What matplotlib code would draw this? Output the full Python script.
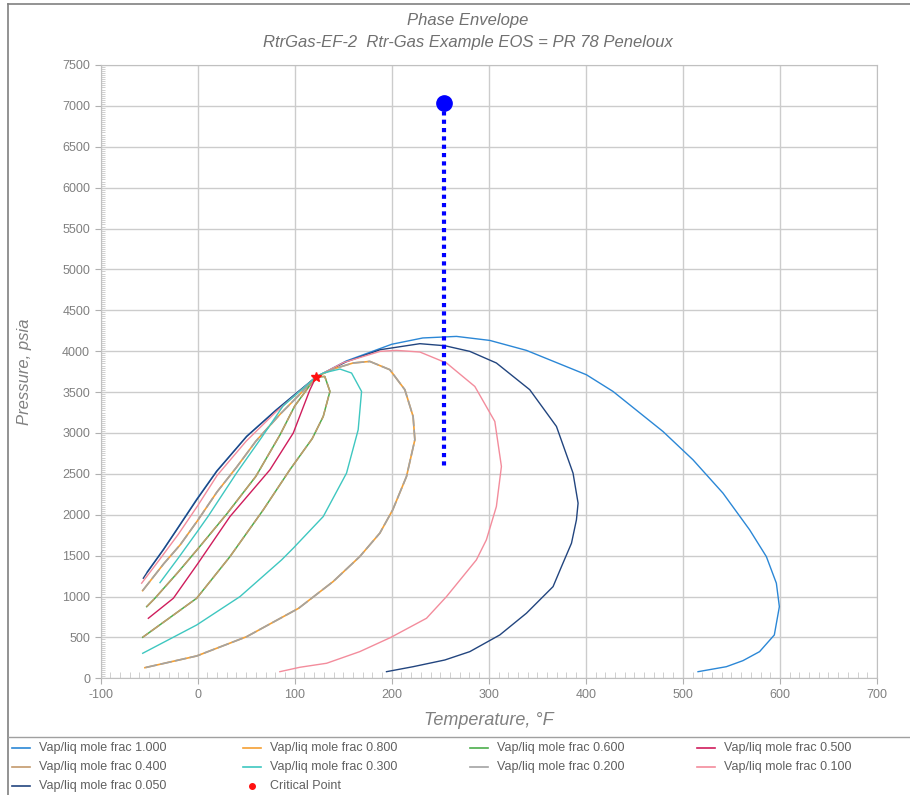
import matplotlib
matplotlib.use("Agg")
import matplotlib.pyplot as plt
from matplotlib.lines import Line2D
from matplotlib.ticker import MultipleLocator

plt.rcParams['font.family'] = ['Liberation Sans', 'DejaVu Sans']
plt.rcParams['axes.unicode_minus'] = False

# ---- data (T in degF, P in psia) ----
# vap/liq mole frac 1.000
t_100 = [-52, -35.4, -21.6, -1, 19.6, 50.5, 81.4, 122, 153, 200, 232, 266.7, 301, 338.8,
         400.6, 428, 479.5, 510.4, 541.3, 568.8, 586, 596.3, 599.4, 594.2, 579, 561.9, 544.8, 515.6]
p_100 = [1300, 1575, 1820, 2190, 2535, 2960, 3288, 3685, 3880, 4085, 4162, 4181, 4132, 4010,
         3712, 3508, 3018, 2672, 2264, 1815, 1488, 1163, 876, 530, 326, 216, 142, 81]

# 0.800 and 0.200 lie on the same path in the picture
t_080 = [-56.7, -35, -18, 0, 20, 40, 60, 85, 105, 122, 139.6, 160.2, 177.4, 198, 213.5, 222,
         223.8, 215.2, 201, 187.7, 167, 139.6, 104, 50.5, -1, -54.3]
p_080 = [1072, 1400, 1632, 1930, 2280, 2580, 2900, 3230, 3470, 3685, 3782, 3856, 3875, 3774,
         3529, 3202, 2917, 2468, 2060, 1775, 1488, 1183, 856, 509, 273, 130]
t_020 = t_080
p_020 = p_080

# 0.600 and 0.400 lie on the same path in the picture
t_060 = [-52.5, -44, -20, 0, 30, 60, 85, 100, 122, 131, 136.3, 129.4, 118, 95, 67.6, 33.3, -1, -56.6]
p_060 = [876, 979, 1300, 1580, 2010, 2470, 2980, 3330, 3685, 3691, 3508, 3202, 2930, 2550,
         2060, 1488, 979, 502]
t_040 = t_060
p_040 = p_060

t_050 = [-50.8, -25, 0, 33.3, 74.5, 98.5, 115.7, 122]
p_050 = [734, 979, 1400, 1978, 2550, 2999, 3529, 3685]

t_030 = [-38.8, -20, 0, 10.6, 40, 65, 88, 122, 129.4, 146.6, 158.6, 168.9, 165.4, 153.4,
         129.4, 98.5, 86.5, 43.6, -1, -56.6]
p_030 = [1170, 1470, 1800, 1978, 2509, 2930, 3330, 3685, 3733, 3782, 3733, 3508, 3039, 2509,
         1978, 1591, 1448, 999, 652, 306]

t_010 = [-57.7, -40, -20, 0, 20, 50, 80, 122, 150, 188, 205, 229, 256.4, 285.6, 306.2, 313,
         307.8, 297.5, 287.2, 256.4, 235.8, 199, 167, 132.9, 105.4, 84.7]
p_010 = [1163, 1440, 1760, 2110, 2480, 2900, 3250, 3685, 3860, 3998, 4010, 3990, 3856, 3569,
         3141, 2590, 2100, 1693, 1448, 999, 734, 500, 326, 184, 135, 81]

t_005 = [-56, -52.6, -35.4, -21.6, -1, 19.6, 50.5, 81.4, 122, 153, 188, 229, 254.7, 280.4,
         307.8, 342.2, 369.7, 386.8, 392, 390.3, 385.2, 374.9, 366.2, 338.8, 311.3, 280.4,
         254.7, 222, 194.6]
p_005 = [1224, 1285, 1570, 1815, 2182, 2530, 2957, 3284, 3685, 3870, 4018, 4092, 4067, 3998,
         3856, 3529, 3080, 2509, 2142, 1938, 1652, 1366, 1121, 796, 530, 326, 224, 142, 81]

crit_t, crit_p = 122, 3685
res_t = 254
res_p_top, res_p_bottom = 7040, 2570

labels = ['Vap/liq mole frac 1.000', 'Vap/liq mole frac 0.800', 'Vap/liq mole frac 0.600',
          'Vap/liq mole frac 0.500', 'Vap/liq mole frac 0.400', 'Vap/liq mole frac 0.300',
          'Vap/liq mole frac 0.200', 'Vap/liq mole frac 0.100', 'Vap/liq mole frac 0.050']
colors = ['#2b87d6', '#f5a033', '#4cae4c', '#cf1d5c', '#c49a6c', '#3ec7c0',
          '#a3a3a3', '#f38c9c', '#22457f']

W, H = 910, 795
fig = plt.figure(figsize=(W / 100, H / 100), dpi=100)
ax = fig.add_axes([100.6 / W, 1 - 678.3 / H, (877 - 100.6) / W, (678.3 - 65) / H])

grey = '#808080'
ax.plot(t_100, p_100, color=colors[0], lw=1.0)
ax.plot(t_005, p_005, color=colors[8], lw=1.0)
ax.plot(t_010, p_010, color=colors[7], lw=1.0)
ax.plot(t_080, p_080, color=colors[1], lw=1.2)
ax.plot(t_020, p_020, color=colors[6], lw=1.2, dashes=(7, 2))
ax.plot(t_060, p_060, color=colors[2], lw=1.1)
ax.plot(t_040, p_040, color=colors[4], lw=1.1, dashes=(7, 2))
ax.plot(t_050, p_050, color=colors[3], lw=1.0)
ax.plot(t_030, p_030, color=colors[5], lw=1.0)
ax.plot([crit_t], [crit_p], marker='*', color='#ff1010', ms=7, ls='none')

ax.plot([res_t, res_t], [res_p_top, res_p_bottom], color='#0000ff', lw=3, dashes=(1, 1))
ax.plot([res_t], [res_p_top], marker='o', color='#0000ff', ms=11)

ax.set_xlim(-100, 700)
ax.set_ylim(0, 7500)
ax.xaxis.set_major_locator(MultipleLocator(100))
ax.xaxis.set_minor_locator(MultipleLocator(10))
ax.yaxis.set_major_locator(MultipleLocator(500))
ax.yaxis.set_minor_locator(MultipleLocator(25))
ax.grid(True, which='major', color='#cccccc', lw=1.0)
ax.set_axisbelow(True)
for s in ax.spines.values():
    s.set_color('#c0c0c0')
ax.tick_params(which='major', direction='out', length=4, color='#b0b0b0',
               labelcolor=grey, labelsize=9)
ax.tick_params(which='minor', direction='in', length=4, color='#c8c8c8')
ax.tick_params(axis='y', which='minor', length=3)

ax.set_xlabel('Temperature, °F', fontsize=13, style='italic', color=grey, labelpad=8)
ax.set_ylabel('Pressure, psia', fontsize=12, style='italic', color=grey, labelpad=22)

fig.text(468 / W, 1 - 20 / H, 'Phase Envelope', ha='center', va='center',
         fontsize=12, style='italic', color='#707070')
fig.text(468 / W, 1 - 42 / H, 'RtrGas-EF-2  Rtr-Gas Example EOS = PR 78 Peneloux',
         ha='center', va='center', fontsize=12, style='italic', color='#707070')

# outer frame and legend separator
fig.add_artist(Line2D([7.5 / W, 1], [1 - 4 / H, 1 - 4 / H], color='#808080', lw=1.2))
fig.add_artist(Line2D([7.5 / W, 7.5 / W], [0, 1 - 4 / H], color='#808080', lw=1.2))
fig.add_artist(Line2D([7.5 / W, 1], [1 - 736.7 / H, 1 - 736.7 / H], color='#a0a0a0', lw=1.0))

# legend, row by row
col_x = [12, 243, 470, 697]
row_y = [748, 767, 786]
for i, (lab, c) in enumerate(zip(labels, colors)):
    x0 = col_x[i % 4]
    y0 = row_y[i // 4]
    fig.add_artist(Line2D([x0 / W, (x0 + 18) / W], [1 - y0 / H, 1 - y0 / H], color=c, lw=1.2))
    fig.text((x0 + 27) / W, 1 - y0 / H, lab, va='center', ha='left', fontsize=9, color='#606060')
x0 = col_x[1]
y0 = row_y[2]
fig.add_artist(Line2D([(x0 + 9) / W], [1 - y0 / H], marker='o', color='#ff1010', ms=4, ls='none'))
fig.text((x0 + 27) / W, 1 - y0 / H, 'Critical Point', va='center', ha='left', fontsize=9,
         color='#606060')

fig.savefig('out.png', dpi=100)
